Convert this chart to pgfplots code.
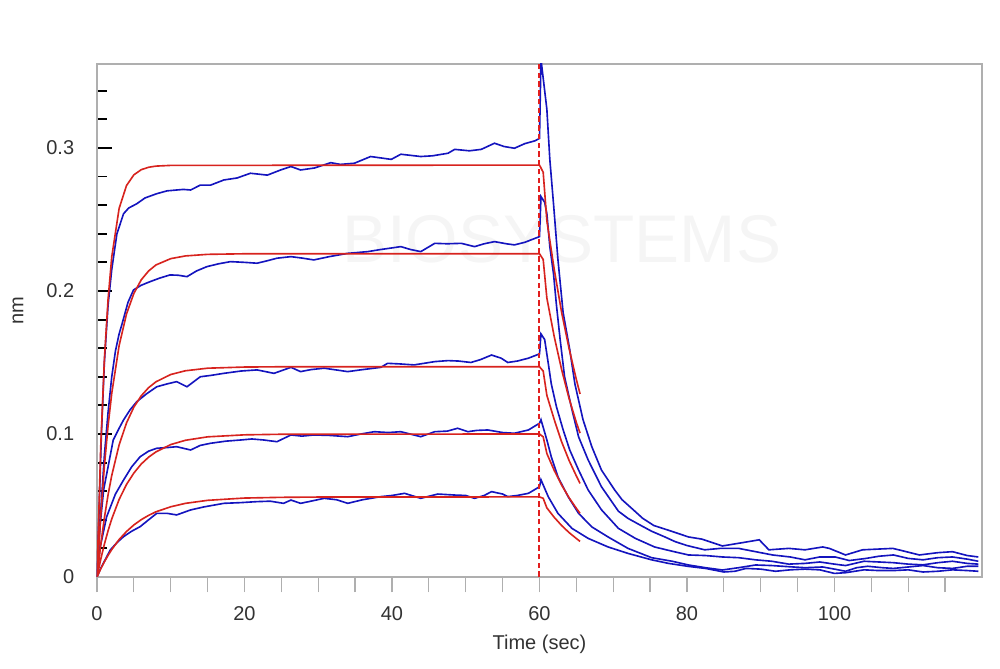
\documentclass[border=0pt]{standalone}
\usepackage{fontspec}
\setmainfont{Liberation Sans}
\usepackage{pgfplots}
\pgfplotsset{compat=1.18}
\definecolor{cblue}{RGB}{20,20,190}
\definecolor{cred}{RGB}{215,35,30}
\definecolor{cdash}{RGB}{225,30,30}
\definecolor{cframe}{RGB}{175,175,175}
\definecolor{ctext}{RGB}{50,50,50}
\begin{document}
\begin{tikzpicture}
\path[use as bounding box] (0,0) rectangle (400pt,267.6pt);
\begin{axis}[
  at={(38.8pt,36.8pt)}, anchor=south west,
  scale only axis, width=354pt, height=205.2pt,
  xmin=0, xmax=120, ymin=0, ymax=0.3587,
  clip=true,
  font=\fontsize{8}{9.6}\selectfont,
  /pgf/number format/assume math mode=true,
  tick label style={text=ctext},
  axis line style={cframe, line width=0.7pt},
  xtick pos=left, ytick pos=left,
  tick align=inside,
  major tick length=6.2pt, minor tick length=4pt,
  xtick={0,5,...,115},
  xticklabels={0,,,,20,,,,40,,,,60,,,,80,,,,100,,,},
  x tick style={cframe, line width=0.5pt, yshift=-6.2pt},
  xticklabel style={yshift=-8.3pt},
  ytick={0,0.1,0.2,0.3,0.4},
  yticklabels={0,0.1,0.2,0.3,0.4},
  minor y tick num=4,
  y tick style={black, line width=0.75pt},
  yticklabel style={xshift=-5.6pt},
  xlabel={Time (sec)},
  ylabel={nm},
  every axis x label/.style={at={(axis description cs:0.5,0)}, anchor=center, yshift=-27pt, text=ctext},
  every axis y label/.style={at={(axis description cs:0,0.5)}, anchor=center, xshift=-31.6pt, yshift=3.8pt, rotate=90, text=ctext},
  every axis plot/.append style={line width=0.65pt},
]
% watermark
\node[text=black!4, font=\fontsize{27}{30}\selectfont] at (axis cs:63,0.236) {BIOSYSTEMS};

% ---------- measured (blue) curves ----------
\addplot[cblue] coordinates {
(0,0) (0.3,0.05) (0.6,0.10) (1,0.15) (1.5,0.19) (2,0.215) (2.7,0.240) (3.6,0.254) (4.3,0.258) (5.4,0.261) (6.5,0.265) (8.1,0.268) (9.5,0.270) (11.7,0.271) (12.7,0.2706) (14,0.274) (15.4,0.274) (17.2,0.2776) (19,0.279) (20.8,0.2823) (23.1,0.281) (24.9,0.2846) (26.3,0.287) (27.6,0.2846) (29.5,0.286) (31.7,0.2897) (33,0.2885) (34.9,0.2893) (37.1,0.294) (39.9,0.292) (41.2,0.2956) (43.9,0.294) (45.5,0.2945) (47.6,0.2963) (48.5,0.299) (50.5,0.298) (52.1,0.299) (53.9,0.3033) (55.2,0.301) (56.6,0.2998) (58,0.303) (59.4,0.305) (60,0.3067)
(60.2,0.362) (61,0.327) (61.4,0.292) (61.9,0.261) (62.5,0.222) (63.2,0.185) (64.1,0.159) (64.8,0.135) (65.9,0.110) (67.1,0.091) (68.4,0.0748) (70.2,0.0608) (71.2,0.054) (72.5,0.048) (74,0.041) (75.5,0.036) (77.9,0.032) (80.2,0.028) (82,0.0265) (84.8,0.0217) (87.5,0.024) (89.8,0.026) (91.1,0.019) (93.8,0.020) (96,0.019) (98.4,0.021) (99.3,0.020) (101.5,0.0154) (103.8,0.019) (107.9,0.020) (109.5,0.018) (111.5,0.0154) (114,0.017) (116,0.0177) (118,0.015) (119.5,0.014)
};
\addplot[cblue] coordinates {
(0,0) (0.5,0.045) (1,0.085) (1.5,0.115) (2,0.14) (2.5,0.158) (3,0.17) (3.4,0.177) (4.2,0.192) (4.95,0.2007) (6,0.204) (7.2,0.2065) (8.5,0.209) (9.9,0.2112) (11,0.211) (12.2,0.21) (13.5,0.214) (14.9,0.217) (16.5,0.219) (18.1,0.2205) (20,0.220) (21.7,0.2194) (23,0.221) (24.4,0.2229) (26.3,0.224) (27.8,0.223) (29.4,0.2217) (31.5,0.224) (34,0.2263) (36.7,0.2275) (38.5,0.229) (41.2,0.231) (42.5,0.229) (43.9,0.2275) (45.8,0.2333) (47.5,0.233) (49.4,0.2333) (51.2,0.231) (52.5,0.233) (53.9,0.2345) (55.5,0.233) (56.6,0.2322) (58,0.234) (59.4,0.2368) (60,0.238)
(60.2,0.266) (60.7,0.262) (61,0.254) (61.4,0.231) (61.9,0.212) (62.3,0.19) (62.8,0.166) (63.4,0.140) (64.4,0.117) (65.3,0.098) (66.6,0.0818) (68.4,0.0631) (70.7,0.046) (72,0.041) (73.4,0.037) (75.2,0.032) (77,0.028) (78.4,0.0247) (80,0.022) (82.4,0.019) (84.5,0.020) (87,0.020) (89,0.018) (91.6,0.0154) (94,0.014) (96,0.012) (98,0.014) (100.1,0.014) (102,0.0115) (104.3,0.013) (106,0.0145) (108,0.0154) (110,0.013) (112,0.012) (114,0.0135) (116,0.014) (118,0.0125) (119.5,0.011)
};
\addplot[cblue] coordinates {
(0,0) (0.3,0.03) (0.9,0.061) (1.5,0.077) (2.2,0.0958) (3,0.104) (3.6,0.1098) (4.5,0.117) (5.4,0.1226) (6.7,0.128) (8.1,0.133) (9.5,0.135) (10.8,0.1366) (12.2,0.133) (14,0.140) (15.5,0.141) (17.2,0.1424) (19.5,0.144) (21.7,0.1448) (24,0.1424) (26.3,0.1466) (27.6,0.1436) (29,0.145) (30.8,0.146) (34,0.1436) (36,0.145) (38.5,0.1466) (39.4,0.1494) (41,0.149) (43,0.1483) (45.8,0.1506) (47.6,0.1513) (49,0.151) (50.7,0.150) (52,0.152) (53.5,0.1552) (54.8,0.153) (55.7,0.150) (57,0.151) (58.5,0.153) (60,0.156)
(60.2,0.170) (60.7,0.166) (61.2,0.149) (61.6,0.135) (62.3,0.119) (63.2,0.103) (64.1,0.0888) (65.3,0.0748) (66.6,0.0608) (68.4,0.047) (70.7,0.034) (73,0.027) (75.6,0.021) (78,0.018) (80.2,0.0154) (82.5,0.015) (84.8,0.014) (87,0.0135) (89.3,0.012) (91.5,0.011) (93.8,0.009) (96,0.0095) (98,0.0105) (100,0.009) (101.5,0.008) (104,0.011) (106,0.0105) (108,0.010) (110,0.009) (112,0.0085) (114,0.010) (116,0.011) (118,0.0095) (119.5,0.009)
};
\addplot[cblue] coordinates {
(0,0) (0.4,0.02) (1.3,0.042) (2.5,0.058) (3.6,0.0678) (4.7,0.077) (5.85,0.0841) (7,0.088) (8.1,0.090) (9.5,0.0905) (10.8,0.0911) (12.7,0.0888) (14,0.092) (15.4,0.0935) (17.5,0.095) (19.5,0.0958) (21,0.0965) (22.6,0.0958) (24.4,0.0946) (26.3,0.0993) (27.8,0.0985) (29.4,0.0993) (31.5,0.099) (34,0.0981) (35.8,0.1) (37.6,0.1016) (39.5,0.101) (41.2,0.1016) (43.9,0.0981) (45.8,0.1016) (47.5,0.102) (48.9,0.104) (50.3,0.1016) (51.5,0.1025) (53,0.1028) (55,0.101) (56.6,0.1005) (58.5,0.1028) (60,0.1075)
(60.2,0.110) (61,0.0958) (61.6,0.084) (62.5,0.070) (63.9,0.056) (65.3,0.0445) (67.1,0.035) (69.3,0.028) (72,0.020) (75.2,0.0135) (78,0.011) (80.2,0.0084) (82.5,0.0065) (84.8,0.0049) (87,0.0065) (89.3,0.0084) (91.5,0.008) (93.8,0.0072) (96,0.0065) (98.4,0.007) (100,0.0055) (101.5,0.004) (103,0.0065) (104.5,0.0075) (106.5,0.0065) (108,0.006) (110,0.007) (112,0.008) (114,0.0065) (116,0.006) (118,0.0075) (119.5,0.0075)
};
\addplot[cblue] coordinates {
(0,0) (0.5,0.006) (1,0.011) (1.8,0.0189) (2.7,0.024) (3.6,0.0282) (4.7,0.032) (5.85,0.0352) (7,0.040) (8.1,0.0445) (9.5,0.0445) (10.8,0.0434) (12.7,0.0469) (14.5,0.049) (17.2,0.0515) (19.5,0.052) (21.7,0.0527) (23.5,0.053) (25.3,0.0515) (26.3,0.0538) (27.6,0.0515) (29,0.053) (30.8,0.055) (32.5,0.054) (34,0.0515) (36,0.054) (38.5,0.0562) (40,0.057) (41.7,0.0585) (43.9,0.055) (46.2,0.058) (48.5,0.0573) (50,0.057) (51.2,0.055) (52.5,0.057) (53.5,0.0597) (55,0.058) (55.7,0.0562) (57,0.057) (58.5,0.0585) (60,0.0631)
(60.2,0.068) (61.2,0.056) (62.5,0.0445) (64.4,0.034) (66.6,0.027) (69.3,0.021) (72,0.0165) (75.2,0.012) (77.5,0.0095) (80.2,0.0074) (82.5,0.006) (85,0.0035) (86.5,0.004) (88,0.006) (90,0.0055) (92,0.004) (94,0.005) (96,0.0055) (98,0.005) (100,0.0025) (101.5,0.003) (104,0.005) (106,0.0045) (108,0.0045) (110,0.005) (112,0.0035) (114,0.004) (116,0.005) (118,0.0045) (119.5,0.004)
};

% ---------- fitted (red) curves ----------
\addplot[cred] coordinates {
(0,0) (0.5,0.0901) (1,0.152) (1.5,0.194) (2,0.2238) (3,0.2577) (4,0.2737) (5,0.2812) (6,0.2848) (7,0.2865) (8,0.2873) (10,0.2878) (60,0.288)
(60.5,0.283) (61,0.249) (62,0.215) (63,0.185) (64,0.160) (65,0.138) (65.5,0.128)
};
\addplot[cred] coordinates {
(0,0) (0.5,0.0428) (1,0.0775) (1.5,0.1056) (2,0.1284) (3,0.1618) (4,0.1839) (5,0.1983) (6,0.2078) (7,0.2140) (8,0.2182) (10,0.2226) (12,0.2245) (15,0.2256) (20,0.226) (60,0.226)
(60.5,0.222) (61,0.195) (62,0.168) (63,0.145) (64,0.125) (65,0.108) (65.5,0.1006)
};
\addplot[cred] coordinates {
(0,0) (0.5,0.0223) (1,0.0413) (1.5,0.0574) (2,0.0710) (3,0.0924) (4,0.1077) (5,0.1188) (6,0.1267) (7,0.1324) (8,0.1365) (10,0.1416) (12,0.1442) (15,0.1460) (20,0.1468) (25,0.147) (60,0.147)
(60.5,0.144) (61,0.127) (62,0.110) (63,0.0945) (64,0.0816) (65,0.0706) (65.5,0.0654)
};
\addplot[cred] coordinates {
(0,0) (0.5,0.0122) (1,0.0229) (1.5,0.0323) (2,0.0406) (3,0.0542) (4,0.0647) (5,0.0727) (6,0.0790) (7,0.0838) (8,0.0875) (10,0.0926) (12,0.0956) (15,0.0980) (20,0.0994) (25,0.0998) (60,0.100)
(60.5,0.098) (61,0.0863) (62,0.0745) (63,0.0643) (64,0.0555) (65,0.048) (65.5,0.0445)
};
\addplot[cred] coordinates {
(0,0) (0.5,0.0056) (1,0.0106) (1.5,0.0151) (2,0.0192) (3,0.0262) (4,0.0318) (5,0.0364) (6,0.0401) (7,0.0431) (8,0.0456) (10,0.0491) (12,0.0515) (15,0.0536) (20,0.0552) (25,0.0557) (30,0.0559) (60,0.056)
(60.5,0.055) (61,0.0483) (62,0.0417) (63,0.036) (64,0.0311) (65,0.0269) (65.5,0.0249)
};

% ---------- dashed marker at 60 s ----------
\addplot[draw=cdash, line width=0.8pt, dash pattern=on 2.2pt off 1.3pt] coordinates {(60,0) (60,0.3587)};
\end{axis}
\end{tikzpicture}
\end{document}
